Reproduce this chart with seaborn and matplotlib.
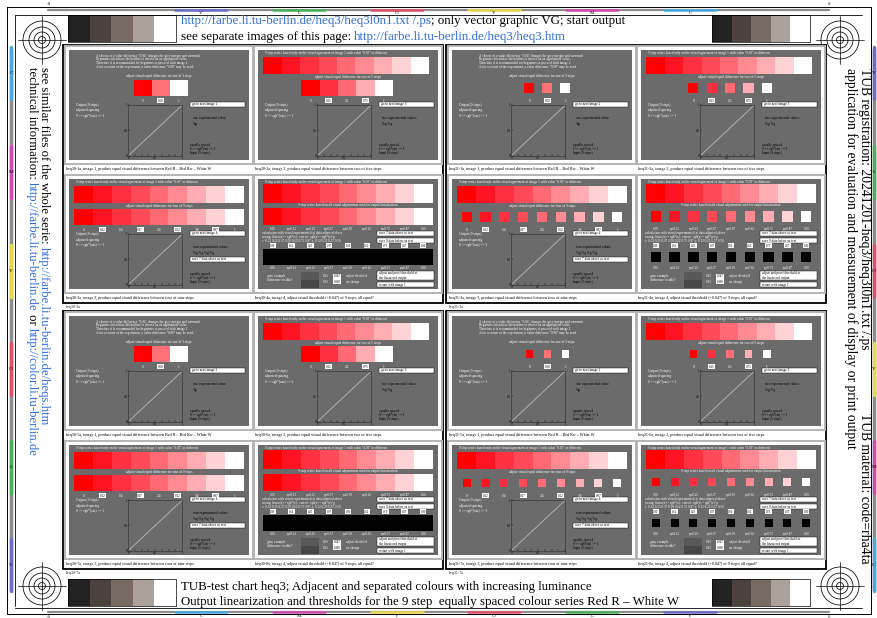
import matplotlib
matplotlib.use("Agg")
import matplotlib.pyplot as plt
from matplotlib.patches import Rectangle, Circle
import seaborn as sns

W, H = 877, 618
GREY = "#6b6b6b"
LINK = "#2f6be0"

# 9 step series Red R - White W
steps = [0.00, 0.12, 0.25, 0.37, 0.50, 0.62, 0.75, 0.87, 1.00]
out_values = [0.00, 0.12, 0.25, 0.37, 0.50, 0.62, 0.75, 0.87, 1.00]
step_labels = ["0.00", "cyr0.12", "cyr0.25", "cyr0.37", "cyr0.50",
               "cyr0.62", "cyr0.75", "cyr0.87", "1.00"]
red_white_9 = ["#ff0000", "#ff1423", "#ff3040", "#ff4a58", "#ff6a74",
               "#ff8a92", "#ffadb2", "#ffd2d5", "#ffffff"]
red_white_5 = ["#ff0000", "#ff3040", "#ff6a74", "#ffadb2", "#ffffff"]
red_white_3 = ["#ff0000", "#ff7276", "#ffffff"]
labels_3 = ["0", "0.50", "1"]
labels_5 = ["0", "0.25", "1/2", "0.75", "1"]
labels_9 = ["0", "0.12", "1/4", "0.37", "2/4", "0.62", "3/4", "0.87", "1"]
grey_wedge = ["#222222", "#4b423d", "#786b63", "#aaa19b", "#ffffff"]

# colour marks of the frame
frame_letters_top = ["V", "L", "O", "Y", "M", "C"]
frame_letters_bottom = ["C", "M", "Y", "O", "L", "V"]
frame_letter_colors = {"V": "#6d6dc8", "L": "#4caf5a", "O": "#e0506a",
                       "Y": "#e6d84a", "M": "#d04ab0", "C": "#4aa8e0"}
frame_x = [201, 299, 397, 494, 592, 690]
frame_y = [73, 172, 271, 369, 467, 565]

captions = {
    1: "image 1, produce equal visual difference between Red R \u2013 Red Rw \u2013 White W",
    2: "image 2, produce equal visual difference between two of five steps",
    3: "image 3, produce equal visual difference between four of nine steps",
    4: "image 4, adjust visual threshold (+0.047) of 9 steps; all equal?",
}
intro_lines = [
    'A choose of a value difference "0.04" changes the grey margin and surround.',
    "Beginners often have difficulties to choose an an appropriate value.",
    "Therefore it is recommended for beginners to proceed with image 2.",
    'After a restart of the experiment, a value difference "0.00" may be used.',
]
series_title = '9 step series based only on the visual agreement of image 1 with value "0.00" or different'

sns.set_theme(style="white")
plt.rcParams["font.family"] = ["Liberation Serif", "DejaVu Serif"]

fig = plt.figure(figsize=(W / 100, H / 100), dpi=100)
ax = fig.add_axes([0, 0, 1, 1])
ax.set_xlim(0, W)
ax.set_ylim(H, 0)
ax.axis("off")
fig.canvas.draw()
renderer = fig.canvas.get_renderer()


def px_axes(x0, y0, x1, y1):
    return fig.add_axes([x0 / W, 1 - y1 / H, (x1 - x0) / W, (y1 - y0) / H])


def text_len(s, size):
    t1 = ax.text(0, 0, "|" + s + "|", fontsize=size)
    t2 = ax.text(0, 0, "||", fontsize=size)
    w = t1.get_window_extent(renderer).width - t2.get_window_extent(renderer).width
    t1.remove()
    t2.remove()
    return w


def fit(s, length):
    return 10 * length / text_len(s, 10)


def chain(x, y, parts, size, rotation=0):
    for s, c in parts:
        ax.text(x, y, s, fontsize=size, color=c, rotation=rotation,
                rotation_mode="anchor", ha="left", va="baseline")
        step = text_len(s, size)
        if rotation == 0:
            x += step
        else:
            y += step


# ---- outer frame, colour marks ----
ax.plot([7, 871, 871, 7, 7], [7, 7, 614, 614, 7], color="black", lw=0.7)
ax.plot([15, 15], [15, 606], color="black", lw=0.6)
ax.plot([15, 862], [15, 15], color="black", lw=0.6)
ax.plot([15, 862], [608, 608], color="black", lw=0.6)
ax.plot([48, 829], [9.5, 9.5], color="#8c8c8c", lw=1.6)
ax.plot([48, 829], [611.5, 611.5], color="#8c8c8c", lw=1.6)
ax.plot([11, 11], [50, 590], color="#8c8c8c", lw=2.5)
ax.plot([874, 874], [50, 590], color="#8c8c8c", lw=2.5)
for k, x in enumerate(frame_x):
    for lt, yy, ty in ((frame_letters_top[k], 9.5, 13), (frame_letters_bottom[k], 611.5, 616)):
        ax.plot([x - 26, x + 26], [yy, yy], color=frame_letter_colors[lt], lw=1.8)
        ax.text(x, ty, lt, fontsize=3.6, ha="center", va="center", color="black")
for k, y in enumerate(frame_y):
    lt = frame_letters_bottom[k]
    ax.plot([11, 11], [y - 26, y + 26], color=frame_letter_colors[lt], lw=2.5)
    ax.text(11, y, lt, fontsize=3.8, ha="center", va="center", color="black")
    lt = frame_letters_top[k]
    ax.plot([874, 874], [y - 26, y + 26], color=frame_letter_colors[lt], lw=2.5)
    ax.text(874, y, lt, fontsize=3.8, ha="center", va="center", color="black")
for x, s in ((49, "-8"), (829, "8")):
    ax.text(x, 4, s, fontsize=3.6, ha="center", va="center")
for x, s in ((49, "-6"), (829, "6")):
    ax.text(x, 616.5, s, fontsize=3.6, ha="center", va="center")

# ---- registration targets ----
for cx, cy in ((42, 40), (840, 40), (42, 586), (840, 586)):
    for r in (3.5, 8, 13, 19):
        ax.add_patch(Circle((cx, cy), r, fill=False, ec="black", lw=0.55))
    ax.plot([cx - 24, cx + 24], [cy, cy], color="black", lw=0.5)
    ax.plot([cx, cx], [cy - 24, cy + 24], color="black", lw=0.5)

# ---- grey wedges ----
for x0, x1, y0, y1 in ((68, 176, 15, 42), (712, 810, 15, 42),
                       (68, 176, 579, 606), (712, 810, 579, 606)):
    cw = (x1 - x0) / len(grey_wedge)
    for i, c in enumerate(grey_wedge):
        ax.add_patch(Rectangle((x0 + i * cw, y0), cw, y1 - y0, fc=c, ec="none"))
    ax.add_patch(Rectangle((x0, y0), x1 - x0, y1 - y0, fill=False, ec="black", lw=0.5))

# ---- header, footer and side texts ----
top1 = [("http://farbe.li.tu-berlin.de/heq3/heq3l0n1.txt /.ps", LINK),
        ("; only vector graphic VG; start output", "black")]
top2 = [("see separate images of this page: ", "black"),
        ("http://farbe.li.tu-berlin.de/heq3/heq3.htm", LINK)]
chain(181, 24, top1, fit("".join(s for s, _ in top1), 445))
chain(181, 40, top2, fit("".join(s for s, _ in top2), 386))
bot1 = "TUB-test chart heq3; Adjacent and separated colours with increasing luminance"
bot2 = "Output linearization and thresholds for the 9 step  equally spaced colour series Red R \u2013 White W"
chain(181, 590, [(bot1, "black")], fit(bot1, 414))
chain(181, 605, [(bot2, "black")], fit(bot2, 498))

left1 = [("see similar files of the whole serie: ", "black"),
         ("http://farbe.li.tu-berlin.de/heqs.htm", LINK)]
left2 = [("technical information: ", "black"), ("http://farbe.li.tu-berlin.de", LINK),
         (" or ", "black"), ("http://color.li.tu-berlin.de", LINK)]
size_left = fit("".join(s for s, _ in left2), 388)
chain(41, 67, left1, size_left, rotation=-90)
chain(29, 67, left2, size_left, rotation=-90)
right1 = "TUB registration: 20241201-heq3/heq3l0n1.txt /.ps"
right2 = "application for evaluation and measurement of display or print output"
size_right = fit(right2, 380)
chain(861, 68, [(right1, "black")], size_right, rotation=-90)
chain(847, 68, [(right2, "black")], size_right, rotation=-90)
chain(861, 413, [("TUB material: code=rha4ta", "black")], size_right, rotation=-90)


# ---- test panels ----
def panel(gx0, gy0, gx1, gy1, kind, separated, sq, caption, cap_y):
    gw, gh = gx1 - gx0, gy1 - gy0
    ax.add_patch(Rectangle((gx0 - 4, gy0 - 4), gw + 8, gh + 8, fc="white", ec="#b4b4b4", lw=1.4))
    ax.add_patch(Rectangle((gx0, gy0), gw, gh, fc=GREY, ec="none"))
    ax.text(gx0 - 3, cap_y, caption, fontsize=3.0, ha="left", va="center", color="black")

    def P(u, v):
        return gx0 + u * gw, gy0 + v * gh

    def T(u, v, s, c="white", ha="left", size=2.5):
        x, y = P(u, v)
        ax.text(x, y, s, color=c, ha=ha, va="center", fontsize=size)

    def boxT(u, v, s, size=2.3):
        x, y = P(u, v)
        ax.text(x, y, s, color="black", ha="center", va="center", fontsize=size,
                bbox=dict(boxstyle="square,pad=0.2", fc="white", ec="none"))

    def wbox(u0, u1, v0, v1, lines, size=2.4):
        x0, y0 = P(u0, v0)
        x1, y1 = P(u1, v1)
        ax.add_patch(Rectangle((x0, y0), x1 - x0, y1 - y0, fc="white", ec="black", lw=0.3))
        n = len(lines)
        for k, s in enumerate(lines):
            ax.text(x0 + 2, y0 + (y1 - y0) * (k + 0.5) / n, s, fontsize=size,
                    ha="left", va="center", color="black")

    def swatches(u0, u1, v0, v1, colors, sep):
        n = len(colors)
        cw = (u1 - u0) / n
        centers = []
        for i, c in enumerate(colors):
            cu = u0 + (i + 0.5) * cw
            if sep:
                side = cw * gw * sq
                cx, cy = P(cu, (v0 + v1) / 2)
                ax.add_patch(Rectangle((cx - side / 2, cy - side / 2), side, side, fc=c, ec="none"))
            else:
                x0, y0 = P(u0 + i * cw, v0)
                ax.add_patch(Rectangle((x0, y0), cw * gw + 0.3, (v1 - v0) * gh, fc=c, ec="none"))
            centers.append(cu)
        return centers

    def label_row(centers, labels, v):
        for i, (cu, s) in enumerate(zip(centers, labels)):
            if i % 2 == 1:
                boxT(cu, v, s)
            else:
                T(cu, v, s, ha="center", size=2.5)

    def io_plot(u0, u1, v0, v1):
        x0, y0 = P(u0, v0)
        x1, y1 = P(u1, v1)
        pax = px_axes(x0, y0, x1, y1)
        pax.set_facecolor(GREY)
        sns.lineplot(x=steps, y=out_values, ax=pax, color="#b8b8b8", linewidth=0.6)
        pax.set_xlim(0, 1)
        pax.set_ylim(0, 1)
        pax.set_xticks(steps)
        pax.set_xticklabels(["0", "", "", "", "0.5", "", "", "", "1"])
        pax.set_yticks([0, 0.5, 1])
        pax.set_yticklabels(["0", "0.5", "1"])
        pax.set_xlabel("")
        pax.set_ylabel("")
        pax.tick_params(labelsize=2.3, length=1.2, width=0.3, pad=0.5,
                        direction="in", colors="black", bottom=True, left=True)
        for sp in pax.spines.values():
            sp.set_color("#3a3a3a")
            sp.set_linewidth(0.5)

    def side_texts(next_img, exp_title, exp_vals):
        T(0.04, 0.50, "Output (9 steps)", size=2.5)
        T(0.04, 0.55, "adjusted spacing", size=2.5)
        T(0.04, 0.60, "0 <= rgb*(out) <= 1", size=2.5)
        wbox(0.67, 0.98, 0.47, 0.52, ["go to next image %d" % next_img])
        T(0.69, 0.62, exp_title, c="black", size=2.5)
        T(0.69, 0.67, exp_vals, c="black", size=2.5)
        T(0.67, 0.86, "equally spaced", c="black", size=2.4)
        T(0.67, 0.90, "0 <= rgb*(in) <= 1", c="black", size=2.4)
        T(0.67, 0.94, "Input (9 steps)", c="black", size=2.4)

    if kind == 1:
        for k, s in enumerate(intro_lines):
            T(0.15, 0.05 + 0.035 * k, s, size=2.4)
        T(0.5, 0.24, "adjust visual equal difference for one of 3 steps", ha="center")
        if separated:
            c = swatches(0.38, 0.68, 0.27, 0.42, red_white_3, True)
        else:
            c = swatches(0.36, 0.66, 0.27, 0.42, red_white_3, False)
        label_row(c, labels_3, 0.46)
        io_plot(0.33, 0.63, 0.50, 0.96)
        side_texts(2, "one experimental value:", "%g")
    elif kind == 2:
        T(0.04, 0.03, series_title, size=2.4)
        swatches(0.03, 0.95, 0.06, 0.22, red_white_9, False)
        T(0.5, 0.245, "adjust visual equal difference for two of 5 steps", ha="center")
        c = swatches(0.24, 0.75, 0.27, 0.42, red_white_5, separated)
        label_row(c, labels_5, 0.46)
        io_plot(0.33, 0.63, 0.50, 0.96)
        side_texts(3, "two experimental values:", "%g %g")
    elif kind == 3:
        T(0.04, 0.03, series_title, size=2.4)
        swatches(0.03, 0.97, 0.06, 0.22, red_white_9, False)
        T(0.5, 0.245, "adjust visual equal difference for four of 9 steps", ha="center")
        c = swatches(0.03, 0.97, 0.27, 0.42, red_white_9, separated)
        label_row(c, labels_9, 0.46)
        io_plot(0.33, 0.63, 0.50, 0.96)
        side_texts(4, "four experimental values:", "%g %g %g %g")
        wbox(0.67, 0.98, 0.71, 0.75, ["save 7 data above as text"])
    else:
        T(0.04, 0.025, series_title, size=2.4)
        swatches(0.03, 0.97, 0.045, 0.22, red_white_9, False)
        T(0.5, 0.24, "9 step series based on all visual adjustments used for output linearization",
          ha="center", size=2.4)
        c = swatches(0.03, 0.97, 0.26, 0.42, red_white_9, separated)
        for cu, s in zip(c, step_labels):
            T(cu, 0.455, s, ha="center", size=2.3)
        T(0.02, 0.495, "calculation with visual experimental (x) data adjusted above", size=2.3)
        T(0.02, 0.53, "wrong: linear(x) = rgb*(x);  correct: rgb(x) = rgb*(x)^g", size=2.3)
        T(0.02, 0.565, "c: 0.12 0.25 0.37 0.50 0.62 0.75 0.87 x: 0.12 0.25 0.37 0.50", size=2.3)
        wbox(0.66, 0.98, 0.475, 0.515, ["save 7 data above as text"])
        wbox(0.66, 0.98, 0.54, 0.58, ["save 9 data below as text"])
        for cu, s in zip(c, steps):
            boxT(cu, 0.605, "%.2f" % s, size=2.2)
        swatches(0.03, 0.97, 0.635, 0.78, ["#000000"] * 9, separated)
        for cu, s in zip(c, step_labels):
            T(cu, 0.81, s, ha="center", size=2.3)
        T(0.05, 0.885, "gray example", size=2.4)
        T(0.05, 0.92, "difference visible?", size=2.4)
        x0, y0 = P(0.24, 0.845)
        x1, y1 = P(0.34, 0.99)
        ax.add_patch(Rectangle((x0, y0), x1 - x0, (y1 - y0) / 2, fc="#585858", ec="none"))
        ax.add_patch(Rectangle((x0, (y0 + y1) / 2), x1 - x0, (y1 - y0) / 2, fc="#474747", ec="none"))
        T(0.36, 0.885, "0.33", size=2.3)
        boxT(0.44, 0.885, "0.047", size=2.2)
        T(0.49, 0.885, "adjust threshold", size=2.3)
        T(0.36, 0.935, "0.33", size=2.3)
        boxT(0.44, 0.935, "0.000", size=2.2)
        T(0.49, 0.935, "no change", size=2.3)
        wbox(0.66, 0.98, 0.84, 0.915, ["adjust and proof threshold of", "the linearized output"], size=2.3)
        wbox(0.66, 0.98, 0.94, 0.98, ["restart with image 1"], size=2.3)


blocks = [
    ("heq30", 63, 45, ["1a", "2a", "3a", "4a"], False, 0.55),
    ("heq31", 446, 45, ["1a", "2a", "3a", "4a"], True, 0.55),
    ("heq30", 63, 311, ["5a", "6a", "7a", "8a"], False, 0.55),
    ("heq31", 446, 311, ["5a", "6a", "7a", "8a"], True, 0.42),
]
for prefix, bx, by, ids, sep, sq in blocks:
    ax.add_patch(Rectangle((bx, by), 380, 258, fill=False, ec="black", lw=1.3))
    for k, pid in enumerate(ids):
        r, col = divmod(k, 2)
        gx0 = bx + 6 + col * 189
        gy0 = by + 5 + r * 129
        panel(gx0, gy0, gx0 + 180, gy0 + 110, k + 1, sep, sq,
              "%s-%s, %s" % (prefix, pid, captions[k + 1]), gy0 + 119)
    ax.text(bx + 3, by + 262, "%s-%s" % (prefix, ids[2]), fontsize=3.0, ha="left", va="center")

fig.savefig("out.png", dpi=100)
